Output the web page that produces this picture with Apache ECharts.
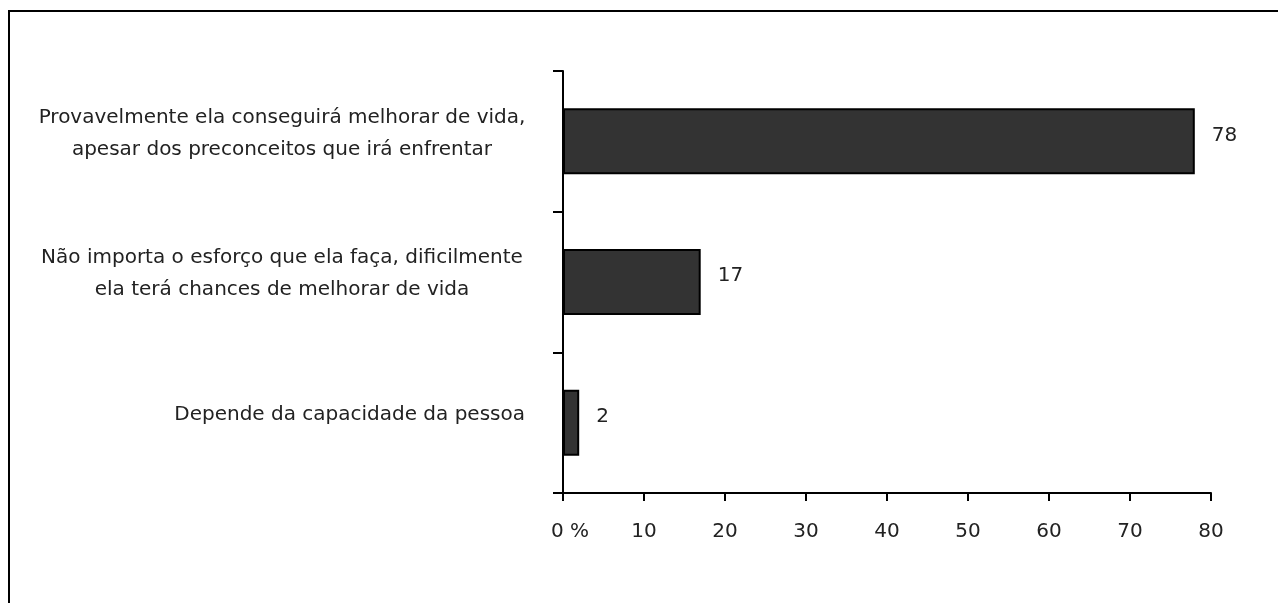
<!doctype html>
<html lang="pt">
<head>
    <meta charset="UTF-8">
    <title>Chart</title>
    <style>
        html, body { margin: 0; padding: 0; background: #fff; }
        #chart { width: 1278px; height: 603px; }
    </style>
</head>
<body>
    <div id="chart"></div>
    <script src="https://cdn.jsdelivr.net/npm/echarts@6/dist/echarts.min.js"></script>
    <script>
        var categories = [
            'Provavelmente ela conseguirá melhorar de vida,\napesar dos preconceitos que irá enfrentar',
            'Não importa o esforço que ela faça, dificilmente\nela terá chances de melhorar de vida',
            'Depende da capacidade da pessoa'
        ];
        var values = [78, 17, 2];
        var xTicks = { min: 0, max: 80, step: 10 };

        var font = 'DejaVu Sans';
        var chart = echarts.init(document.getElementById('chart'));

        var option = {
            animation: false,
            textStyle: { fontFamily: font },
            grid: { left: 563, right: 67, top: 71, bottom: 110 },
            graphic: [{
                type: 'polyline',
                shape: { points: [[9, 603], [9, 11], [1278, 11]] },
                style: { stroke: '#000', lineWidth: 2, fill: null }
            }],
            xAxis: {
                type: 'value',
                min: xTicks.min,
                max: xTicks.max,
                interval: xTicks.step,
                splitLine: { show: false },
                axisLine: { show: true, lineStyle: { color: '#000', width: 2 } },
                axisTick: { show: true, length: 8, lineStyle: { color: '#000', width: 2 } },
                axisLabel: {
                    margin: 29,
                    color: '#222',
                    fontSize: 20,
                    fontFamily: font,
                    formatter: function (v) {
                        return v === 0 ? '{z|0 %}' : String(v);
                    },
                    rich: { z: { fontSize: 20, fontFamily: font, color: '#222', padding: [0, 0, 0, 14] } }
                }
            },
            yAxis: {
                type: 'category',
                inverse: true,
                data: categories,
                axisLine: { show: true, lineStyle: { color: '#000', width: 2 } },
                axisTick: { show: true, length: 10, lineStyle: { color: '#000', width: 2 } },
                axisLabel: {
                    margin: 38,
                    color: '#222',
                    fontSize: 20,
                    fontFamily: font,
                    lineHeight: 32,
                    padding: [0, 0, 16, 0],
                    formatter: function (v) {
                        if (v.indexOf('\n') < 0) return v;
                        return v.split('\n').map(function (s) { return '{c|' + s + '}'; }).join('\n');
                    },
                    rich: {
                        c: { width: 486, align: 'center', fontSize: 20, fontFamily: font, color: '#222', lineHeight: 32 }
                    }
                }
            },
            series: [{
                type: 'bar',
                data: values,
                barWidth: 66,
                itemStyle: { color: '#333333', borderColor: '#000', borderWidth: 2 },
                label: {
                    show: true,
                    position: 'right',
                    distance: 17,
                    offset: [0, -6],
                    color: '#222',
                    fontSize: 20,
                    fontFamily: font
                }
            }]
        };

        chart.setOption(option);
    </script>
</body>
</html>
